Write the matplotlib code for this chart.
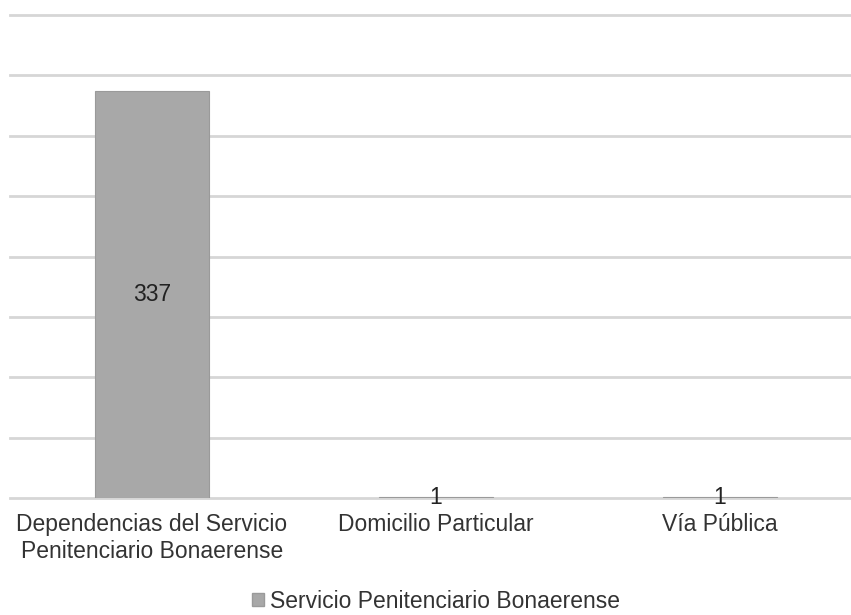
import matplotlib
matplotlib.use("Agg")
import matplotlib.pyplot as plt
from matplotlib.patches import Patch

categories = ["Dependencias del Servicio\nPenitenciario Bonaerense", "Domicilio Particular", "Vía Pública"]
values = [337, 1, 1]
series_name = "Servicio Penitenciario Bonaerense"

plt.rcParams['font.family'] = ['Liberation Sans', 'DejaVu Sans']

W, H = 851, 615
fig = plt.figure(figsize=(W / 100, H / 100), dpi=100)
left, right, top, bottom = 10, 862, 15, 498
ax = fig.add_axes([left / W, 1 - bottom / H, (right - left) / W, (bottom - top) / H])

fs = 16.5
bar_color = "#a8a8a8"
x = range(len(categories))
bars = ax.bar(x, values, width=0.4, color=bar_color, edgecolor="#9a9a9a", linewidth=0.8, zorder=3)
ax.set_xlim(-0.5, len(categories) - 0.5)
ax.set_ylim(0, 400)
ax.set_yticks(range(0, 401, 50))
ax.yaxis.grid(True, color="#d6d6d6", linewidth=2, zorder=0)
for gl in ax.get_ygridlines():
    gl.set_clip_on(False)
ax.tick_params(axis='y', left=False, labelleft=False)
ax.tick_params(axis='x', bottom=False, labelsize=fs, labelcolor="#333333", pad=7)
ax.set_xticks(list(x))
ax.set_xticklabels(categories, linespacing=1.25)
for s in ax.spines.values():
    s.set_visible(False)
ax.set_axisbelow(True)

for rect, v in zip(bars, values):
    ax.text(rect.get_x() + rect.get_width() / 2, rect.get_height() / 2, str(v),
            ha='center', va='center', fontsize=fs, color="#222222", zorder=4)

handles = [Patch(facecolor=bar_color, edgecolor="#9a9a9a", label=series_name)]
fig.legend(handles=handles, loc='center', bbox_to_anchor=(436 / W, 1 - 601 / H),
           frameon=False, fontsize=fs, handlelength=0.5, handleheight=0.5,
           handletextpad=0.25, labelcolor="#333333")

fig.savefig("out.png", dpi=100, facecolor="white")
